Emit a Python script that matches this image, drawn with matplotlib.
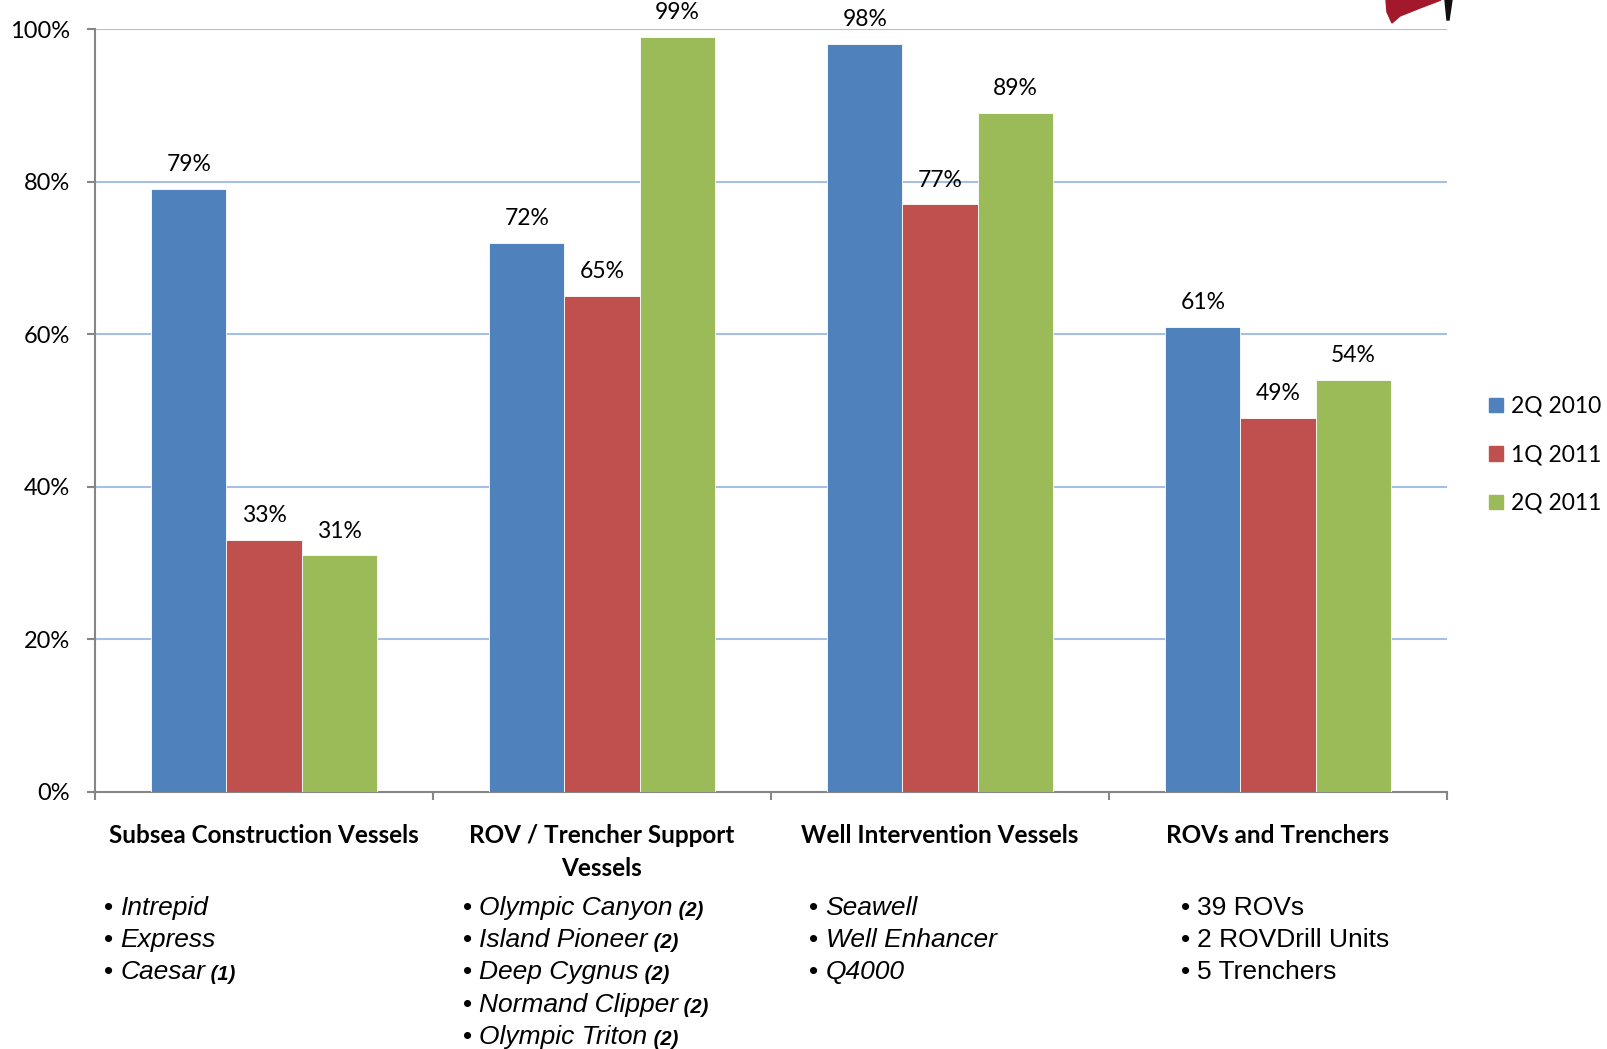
import numpy as np
import matplotlib
matplotlib.use("Agg")
import matplotlib.pyplot as plt
from matplotlib.patches import Patch, Polygon

# data
categories = ["Subsea Construction Vessels", "ROV / Trencher Support\nVessels",
              "Well Intervention Vessels", "ROVs and Trenchers"]
series = ["2Q 2010", "1Q 2011", "2Q 2011"]
q2_2010 = [79, 72, 98, 61]
q1_2011 = [33, 65, 77, 49]
q2_2011 = [31, 99, 89, 54]
colors = ["#4F81BD", "#C0504D", "#9BBB59"]

# vessel lists under each category: (name, note)
assets = [
    [("Intrepid", ""), ("Express", ""), ("Caesar", "(1)")],
    [("Olympic Canyon", "(2)"), ("Island Pioneer", "(2)"), ("Deep Cygnus", "(2)"),
     ("Normand Clipper", "(2)"), ("Olympic Triton", "(2)")],
    [("Seawell", ""), ("Well Enhancer", ""), ("Q4000", "")],
    [("39 ROVs", None), ("2 ROVDrill Units", None), ("5 Trenchers", None)],
]
list_x = [104, 463, 809, 1181]   # pixel left edge of each bullet list

W, H = 1608, 1049
lab_font = "Lato"
list_font = "Liberation Sans"

fig = plt.figure(figsize=(W / 100, H / 100), dpi=100)
ax = fig.add_axes([95 / W, 1 - 792 / H, (1447 - 95) / W, (792 - 29) / H])

x = np.arange(len(categories)) + 0.5
bw = 0.222
for i, (vals, name) in enumerate(zip([q2_2010, q1_2011, q2_2011], series)):
    bars = ax.bar(x + (i - 1) * bw, vals, bw, color=colors[i], label=name,
                  edgecolor="white", linewidth=0.6, zorder=3)
    for b, v in zip(bars, vals):
        ax.annotate(f"{v}%", (b.get_x() + b.get_width() / 2, v), xytext=(0, 10),
                    textcoords="offset points", ha="center", va="bottom",
                    fontsize=16.5, family=lab_font)

ax.set_xlim(0, 4)
ax.set_ylim(0, 100)
ax.set_yticks(range(0, 101, 20))
ax.set_yticklabels([f"{t}%" for t in range(0, 101, 20)], fontsize=17, family=lab_font)
ax.set_xticks(range(5))
ax.set_xticklabels([])
ax.tick_params(axis="y", length=6, color="#868686", width=1.5, pad=12)
ax.tick_params(axis="x", length=6, color="#868686", width=1.5)
for t in range(20, 101, 20):
    ax.axhline(t, color="#A5BFE6", lw=1.5, zorder=1)
for s in ["top", "right"]:
    ax.spines[s].set_visible(False)
for s in ["left", "bottom"]:
    ax.spines[s].set_color("#868686")
    ax.spines[s].set_linewidth(1.5)

# category titles
for xi, c in zip(x, categories):
    ax.text(xi, -0.042, c, transform=ax.get_xaxis_transform(), ha="center",
            va="top", fontsize=17.5, fontweight="bold", family=lab_font,
            linespacing=1.55)

# bullet lists
for items, lx in zip(assets, list_x):
    for j, (name, note) in enumerate(items):
        y = 1 - (908 + j * 32.2) / H
        style = "normal" if note is None else "italic"
        t = fig.text(lx / W, y, "\u2022 ", fontsize=19, family=list_font, va="center")
        t2 = ax.annotate(name, xy=(1, 0), xycoords=t, va="bottom", ha="left",
                         fontsize=19, family=list_font, style=style,
                         annotation_clip=False)
        if note:
            ax.annotate(" " + note, xy=(1, 0), xycoords=t2, va="bottom", ha="left",
                        fontsize=14.5, family=list_font, style="italic",
                        fontweight="bold", annotation_clip=False)

handles = [Patch(color=c, label=s) for c, s in zip(colors, series)]
fig.legend(handles=handles, loc="center left", bbox_to_anchor=(1489 / W, 1 - 455 / H),
           frameon=False, prop={"family": lab_font, "size": 16.5}, borderpad=0,
           borderaxespad=0, handlelength=0.6, handleheight=0.6, handletextpad=0.35,
           labelspacing=1.2)

# corner of the company logo, cut by the top edge
fig.patches.append(Polygon([(1386, 0), (1441, 0), (1420, 8), (1400, 16), (1392, 23), (1387, 12)],
                           closed=True, color="#A3182A"))
fig.patches.append(Polygon([(1445, 0), (1452, 0), (1449, 20), (1447, 20)],
                           closed=True, color="#111111"))
for p in fig.patches:
    p.set_transform(matplotlib.transforms.Affine2D().scale(1, -1).translate(0, H))

fig.savefig("out.png", dpi=100)
